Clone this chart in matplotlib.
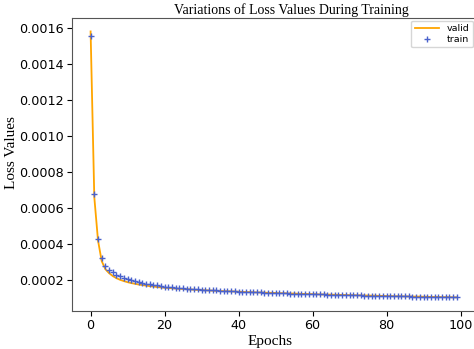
import matplotlib
matplotlib.use('Agg')
import matplotlib.pyplot as plt

epochs = list(range(100))

# loss values (x 1e-4)
train = [15.55, 6.78, 4.30, 3.22, 2.78, 2.58, 2.42, 2.30, 2.20, 2.12,
         2.05, 1.99, 1.93, 1.88, 1.84, 1.80, 1.76, 1.73, 1.70, 1.67,
         1.64, 1.62, 1.60, 1.58, 1.56, 1.54, 1.52, 1.51, 1.49, 1.48,
         1.46, 1.45, 1.44, 1.43, 1.42, 1.41, 1.40, 1.39, 1.38, 1.37,
         1.36, 1.35, 1.34, 1.33, 1.33, 1.32, 1.31, 1.30, 1.30, 1.29,
         1.28, 1.27, 1.27, 1.26, 1.25, 1.25, 1.24, 1.23, 1.23, 1.22,
         1.22, 1.21, 1.20, 1.20, 1.19, 1.19, 1.18, 1.18, 1.17, 1.17,
         1.16, 1.16, 1.15, 1.15, 1.14, 1.14, 1.13, 1.13, 1.12, 1.12,
         1.11, 1.11, 1.10, 1.10, 1.10, 1.09, 1.09, 1.08, 1.08, 1.08,
         1.07, 1.07, 1.06, 1.06, 1.06, 1.05, 1.05, 1.05, 1.04, 1.04]

valid = [15.80, 6.60, 4.20, 3.05, 2.60, 2.38, 2.22, 2.10, 2.01, 1.94,
         1.88, 1.83, 1.79, 1.75, 1.72, 1.69, 1.66, 1.64, 1.61, 1.59,
         1.57, 1.56, 1.54, 1.53, 1.51, 1.50, 1.49, 1.48, 1.46, 1.45,
         1.44, 1.43, 1.42, 1.41, 1.40, 1.39, 1.38, 1.38, 1.37, 1.36,
         1.35, 1.34, 1.33, 1.33, 1.32, 1.31, 1.31, 1.30, 1.29, 1.29,
         1.28, 1.27, 1.27, 1.26, 1.25, 1.25, 1.24, 1.23, 1.23, 1.22,
         1.22, 1.21, 1.20, 1.20, 1.19, 1.19, 1.18, 1.18, 1.17, 1.17,
         1.16, 1.16, 1.15, 1.15, 1.14, 1.14, 1.13, 1.13, 1.12, 1.12,
         1.11, 1.11, 1.10, 1.10, 1.10, 1.09, 1.09, 1.08, 1.08, 1.08,
         1.07, 1.07, 1.06, 1.06, 1.06, 1.05, 1.05, 1.05, 1.04, 1.04]

train = [v * 1e-4 for v in train]
valid = [v * 1e-4 for v in valid]

fig = plt.figure(figsize=(4.74, 3.49), dpi=100)
# the original is cropped right at the right spine
ax = fig.add_axes([0.1525, 0.11, 0.85, 0.838])

ax.plot(epochs, valid, color='orange', linewidth=1.3, label='valid')
ax.plot(epochs, train, linestyle='none', marker='+', markersize=5,
        markeredgewidth=1.0, color='#4a62cc', label='train')

ax.set_xticks([0, 20, 40, 60, 80, 100])
ax.set_yticks([0.0002, 0.0004, 0.0006, 0.0008, 0.0010, 0.0012, 0.0014, 0.0016])
ax.tick_params(labelsize=9.2, pad=2.5)
ax.set_xlabel('Epochs', family='Liberation Serif', fontsize=11)
ax.xaxis.set_label_coords(0.49, -0.085)
ax.set_ylabel('Loss Values', family='Liberation Serif', fontsize=11)
ax.yaxis.set_label_coords(-0.135, 0.54)
ax.set_title('Variations of Loss Values During Training', family='Liberation Serif',
             fontsize=10, x=0.545, y=0.985)
for s in ax.spines.values():
    s.set_color('#555555')

ax.legend(loc='upper right', fontsize=6.8, handlelength=2.6, borderpad=0.35,
          labelspacing=0.25, borderaxespad=0.25)

fig.savefig('out.png', dpi=100)
